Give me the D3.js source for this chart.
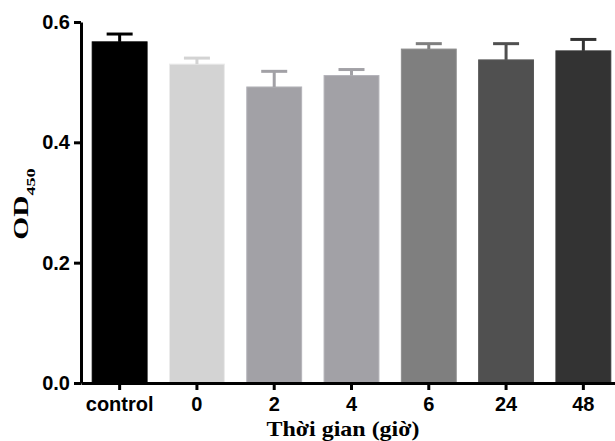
<!DOCTYPE html>
<html>
<head>
<meta charset="utf-8">
<script src="https://cdn.jsdelivr.net/npm/d3@7"></script>
<style>
  body { margin: 0; background: #fff; }
  svg { display: block; }
</style>
</head>
<body>
<div id="chart"></div>
<script>
var categories = ['control', '0', '2', '4', '6', '24', '48'];
var means = [0.567, 0.530, 0.492, 0.511, 0.555, 0.537, 0.552];
var errors = [0.013, 0.010, 0.026, 0.010, 0.009, 0.027, 0.019];
var barColors = ['#000000', '#d3d3d3', '#a2a1a6', '#a2a1a6', '#7f7f7f', '#505050', '#333333'];
var yTicks = [0, 0.2, 0.4, 0.6];

var width = 615, height = 441;

var x = d3.scaleBand()
    .domain(categories)
    .range([81, 622])
    .paddingInner(0.29)
    .paddingOuter(0.145);

var y = d3.scaleLinear()
    .domain([0, 0.6])
    .range([383, 22]);

var svg = d3.select('#chart').append('svg')
    .attr('width', width)
    .attr('height', height);

var data = categories.map(function(c, i) {
  return {cat: c, mean: means[i], err: errors[i], color: barColors[i]};
});

// bars
svg.append('g').selectAll('rect')
  .data(data)
  .enter().append('rect')
    .attr('x', function(d) { return x(d.cat); })
    .attr('y', function(d) { return y(d.mean); })
    .attr('width', x.bandwidth())
    .attr('height', function(d) { return y(0) - y(d.mean); })
    .attr('fill', function(d) { return d.color; })
    .attr('stroke', function(d) { return d3.color(d.color).brighter(0.3); })
    .attr('stroke-width', 1);

// error bars (upper only)
var eb = svg.append('g').selectAll('g')
  .data(data)
  .enter().append('g')
    .attr('stroke', function(d) { return d.color; })
    .attr('stroke-width', 3);

eb.append('line')
    .attr('x1', function(d) { return x(d.cat) + x.bandwidth() / 2; })
    .attr('x2', function(d) { return x(d.cat) + x.bandwidth() / 2; })
    .attr('y1', function(d) { return y(d.mean); })
    .attr('y2', function(d) { return y(d.mean + d.err); });

eb.append('line')
    .attr('x1', function(d) { return x(d.cat) + x.bandwidth() / 2 - 13; })
    .attr('x2', function(d) { return x(d.cat) + x.bandwidth() / 2 + 13; })
    .attr('y1', function(d) { return y(d.mean + d.err); })
    .attr('y2', function(d) { return y(d.mean + d.err); });

// axes
var yAxis = svg.append('g')
    .attr('transform', 'translate(81,0)')
    .call(d3.axisLeft(y).tickValues(yTicks).tickFormat(d3.format('.1f'))
      .tickSize(7).tickSizeOuter(0).tickPadding(4));

var xAxis = svg.append('g')
    .attr('transform', 'translate(0,383)')
    .call(d3.axisBottom(x).tickSize(7).tickSizeOuter(0).tickPadding(7));

[xAxis, yAxis].forEach(function(a) {
  a.select('.domain').attr('stroke', '#000').attr('stroke-width', 3);
  a.selectAll('.tick line').attr('stroke', '#000').attr('stroke-width', 3);
  a.selectAll('.tick text')
    .attr('fill', '#000')
    .style('font-family', '"Liberation Sans", Arial, sans-serif')
    .style('font-weight', 'bold')
    .style('font-size', '20px');
});

// axis titles
svg.append('text')
    .attr('x', 343)
    .attr('y', 436)
    .attr('text-anchor', 'middle')
    .attr('textLength', 153)
    .attr('lengthAdjust', 'spacingAndGlyphs')
    .style('font-family', '"Liberation Serif", "Times New Roman", serif')
    .style('font-weight', 'bold')
    .style('font-size', '22px')
    .text('Thời gian (giờ)');

var yt = svg.append('text')
    .attr('transform', 'translate(28,204) rotate(-90) scale(1.4,1)')
    .attr('text-anchor', 'middle')
    .style('font-family', '"Liberation Serif", "Times New Roman", serif')
    .style('font-weight', 'bold')
    .style('font-size', '21px');
yt.append('tspan').text('OD');
yt.append('tspan').attr('baseline-shift', 'sub').style('font-size', '13px').text('450');
</script>
</body>
</html>
